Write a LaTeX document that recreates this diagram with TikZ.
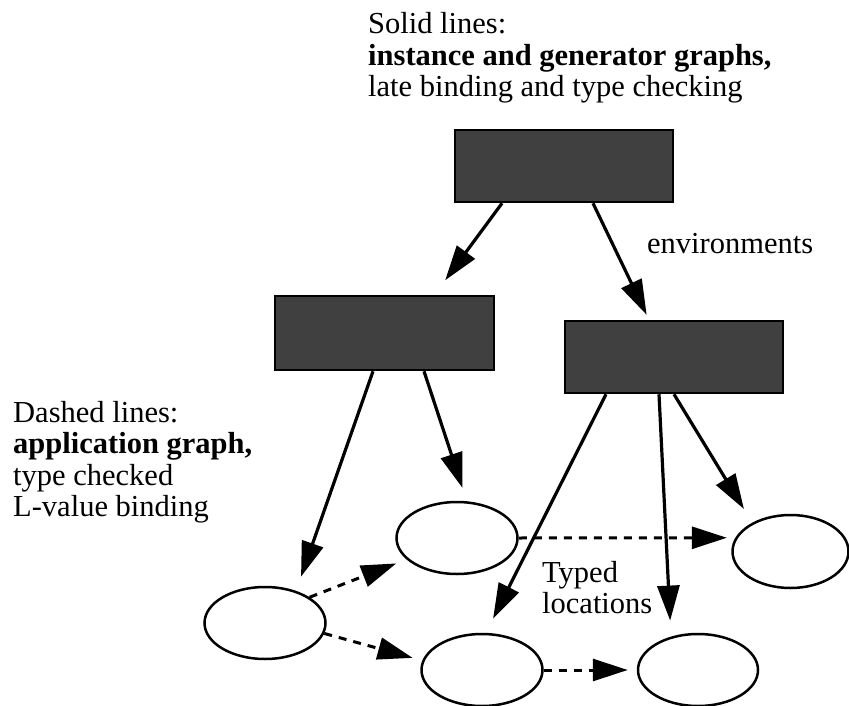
\documentclass[tikz,border=0pt]{standalone}
\usepackage{fontspec}
\setmainfont{Liberation Serif}
\usetikzlibrary{shapes.geometric,arrows.meta}

\begin{document}
\begin{tikzpicture}[
    x=1pt, y=-1pt,
    every node/.style={font=\fontsize{30.5}{31.5}\selectfont},
    env/.style={draw, line width=2.5pt, fill=black!75, minimum width=218pt, minimum height=72pt, inner sep=0pt},
    loc/.style={draw, ellipse, line width=2.5pt, minimum width=121pt, minimum height=72pt, inner sep=0pt},
    note/.style={align=left, anchor=base west, inner sep=0pt},
    solid arrow/.style={line width=3.2pt, -{Triangle[length=35pt,width=22pt]}},
    dashed arrow/.style={line width=3pt, dash pattern=on 8pt off 7pt, -{Triangle[length=35pt,width=22pt]}}
]
    \useasboundingbox (0,0) rectangle (849,706);

    % environments
    \node[env] (top) at (564,166) {};
    \node[env, minimum width=219pt, minimum height=74pt] (lbox) at (384.5,333) {};
    \node[env] (rbox) at (674,357) {};

    % typed locations
    \node[loc] (e1) at (457,538) {};
    \node[loc] (e2) at (265,623) {};
    \node[loc] (e3) at (482,670) {};
    \node[loc, minimum width=116pt, minimum height=73pt] (e4) at (790.5,551.5) {};
    \node[loc, minimum width=120pt] (e5) at (698,670) {};

    % solid lines
    \draw[solid arrow, shorten >=18pt] ([xshift=-62pt]top.south) -- ([xshift=50pt]lbox.north);
    \draw[solid arrow, shorten >=5.5pt] ([xshift=29pt]top.south) -- ([xshift=-25pt]rbox.north);
    \draw[solid arrow, shorten >=15pt] ([xshift=-11.5pt]lbox.south) -- (e2.46);
    \draw[solid arrow, shorten >=14pt] ([xshift=39.5pt]lbox.south) -- (e1.75);
    \draw[solid arrow, shorten >=16pt] ([xshift=-68pt]rbox.south) -- (e3.84);
    \draw[solid arrow, shorten >=16pt] ([xshift=-15pt]rbox.south) -- (e5.129);
    \draw[solid arrow, shorten >=16pt] (rbox.south) -- (e4.143);

    % dashed lines
    \draw[dashed arrow, shorten >=11pt] (e2.30) -- (e1.203);
    \draw[dashed arrow, shorten >=10pt] (e2.-10) -- (e3.171);
    \draw[dashed arrow, shorten >=8.5pt] (e1.east) -- (e4.166);
    \draw[dashed arrow, shorten >=9pt] (e3.east) -- (e5.west);

    % labels (anchored at the last baseline)
    \node[note] (solid) at (368,97) {Solid lines:\\\textbf{instance and generator graphs,}\\late binding and type checking};
    \node[note] (dashed) at (13,516.5) {Dashed lines:\\\textbf{application graph,}\\type checked\\L-value binding};
    \node[note] (envs) at (647,253) {environments};
    \node[note] (typed) at (542,613.5) {Typed\\locations};
\end{tikzpicture}
\end{document}
